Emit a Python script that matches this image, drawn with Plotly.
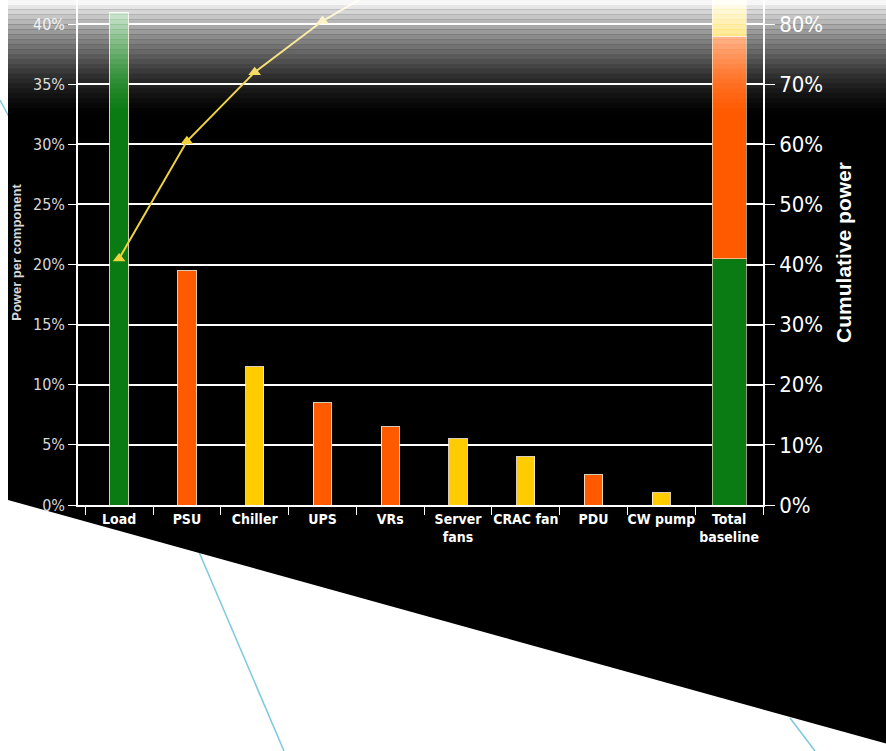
import numpy as np
import plotly.graph_objects as go

# ---------------- data ----------------
categories = ["Load", "PSU", "Chiller", "UPS", "VRs", "Server fans", "CRAC fan", "PDU", "CW pump"]
values = [41.0, 19.5, 11.5, 8.5, 6.5, 5.5, 4.0, 2.5, 1.0]          # % of total power
groups = ["it", "power", "cooling", "power", "power", "cooling", "cooling", "power", "cooling"]
total_label = "Total baseline"
tick_labels = ["Load", "PSU", "Chiller", "UPS", "VRs", "Server<br>fans", "CRAC fan", "PDU", "CW pump", "Total<br>baseline"]
left_ticks = [0, 5, 10, 15, 20, 25, 30, 35, 40]
right_ticks = [0, 10, 20, 30, 40, 50, 60, 70, 80]

# ---------------- style ----------------
W, H = 886, 751
L, R, T, B = 78, 123, 0, 246
PW, PH = W - L - R, H - T - B
group_colors = {"it": "#0a7a12", "power": "#ff5a00", "cooling": "#ffcc00"}
line_color = "#f2d23c"
FONT = "Liberation Sans Narrow, DejaVu Sans Condensed, Liberation Sans, Arial, sans-serif"

def px(x):
    return (x - L) / PW

def py(y):
    return (H - B - y) / PH

cumulative = np.cumsum(values)
all_cats = categories + [total_label]

fig = go.Figure()

fig.add_trace(go.Bar(
    x=categories, y=values, yaxis="y",
    marker=dict(color=[group_colors[g] for g in groups],
                line=dict(color="rgba(255,240,210,0.85)", width=1)),
    width=0.27, showlegend=False, hoverinfo="x+y",
))

for g in ["it", "power", "cooling"]:
    s = sum(v for v, gg in zip(values, groups) if gg == g)
    fig.add_trace(go.Bar(
        x=[total_label], y=[s], yaxis="y2",
        marker=dict(color=group_colors[g], line=dict(color="rgba(255,240,210,0.6)", width=1)),
        width=0.5, showlegend=False,
    ))

fig.add_trace(go.Scatter(
    x=categories, y=cumulative, yaxis="y2", mode="lines+markers",
    line=dict(color=line_color, width=2),
    marker=dict(symbol="triangle-up", size=11, color=line_color),
    showlegend=False, cliponaxis=True,
))

shapes = []
# decorative light-blue lines on the white background
for (x0, y0, x1, y1) in [(0, 100, 32, 160), (196, 545, 284, 751), (790, 718, 815, 751)]:
    shapes.append(dict(type="line", xref="paper", yref="paper", layer="below",
                       x0=px(x0), y0=py(y0), x1=px(x1), y1=py(y1),
                       line=dict(color="#7cc8dc", width=1.5)))
# black slanted panel
path = "M {} {} L {} {} L {} {} L {} {} Z".format(
    px(8), py(-5), px(W + 5), py(-5), px(W + 5), py(745), px(8), py(500))
shapes.append(dict(type="path", xref="paper", yref="paper", layer="below",
                   path=path, fillcolor="black", line=dict(width=0)))
# top white fade
n = 24
for i in range(n):
    y0 = i * 118 / n
    y1 = (i + 1) * 118 / n
    op = max(0.0, 1 - (i + 0.5) / n) ** 1.6
    shapes.append(dict(type="rect", xref="paper", yref="paper", layer="above",
                       x0=px(0), x1=px(W), y0=py(y0), y1=py(y1),
                       fillcolor="white", opacity=op, line=dict(width=0)))

fig.update_layout(
    width=W, height=H,
    margin=dict(l=L, r=R, t=T, b=B),
    paper_bgcolor="white", plot_bgcolor="rgba(0,0,0,0)",
    barmode="stack", bargap=0.2,
    font=dict(family=FONT, color="white"),
    shapes=shapes,
    xaxis=dict(
        type="category", categoryorder="array", categoryarray=all_cats,
        tickvals=all_cats, ticktext=tick_labels, tickangle=0,
        tickson="boundaries", ticks="outside", ticklen=8, tickcolor="white",
        showline=True, linecolor="white", linewidth=1.5, showgrid=False,
        tickfont=dict(size=14, color="white", family=FONT, weight="bold"),
    ),
    yaxis=dict(
        range=[0, 42], tickvals=left_ticks, ticktext=[f"{t}%" for t in left_ticks],
        showgrid=True, gridcolor="white", gridwidth=1.5,
        showline=True, linecolor="white", linewidth=1.5,
        ticks="outside", ticklen=8, tickcolor="white",
        tickfont=dict(size=16, color="#d8d8d8", family=FONT),
        zeroline=False,
        title=dict(text="Power per component", standoff=8,
                   font=dict(size=13, color="#d8d8d8", family="Liberation Sans, Arial", weight="bold")),
    ),
    yaxis2=dict(
        overlaying="y", side="right", range=[0, 84],
        tickvals=right_ticks, ticktext=[f"{t}%" for t in right_ticks],
        showgrid=False, zeroline=False,
        showline=True, linecolor="white", linewidth=1.5,
        ticks="outside", ticklen=10, tickcolor="white",
        tickfont=dict(size=22, color="white", family=FONT),
        title=dict(text="Cumulative power", standoff=14,
                   font=dict(size=21, color="white", family="Liberation Sans, Arial", weight="bold")),
    ),
)

fig.write_html("out.html")
